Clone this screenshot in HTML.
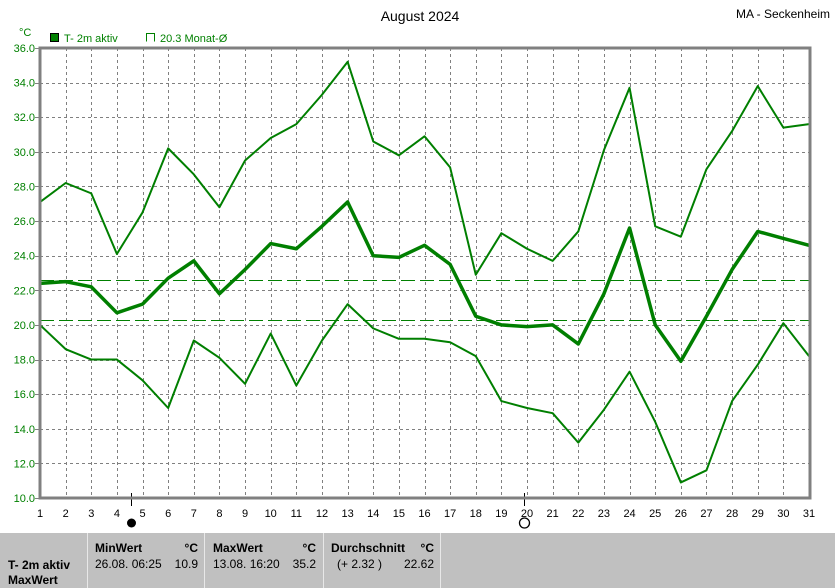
<!DOCTYPE html>
<html><head><meta charset="utf-8"><style>
body{margin:0;width:835px;height:588px;background:#fff;overflow:hidden;font-family:"Liberation Sans",sans-serif}
svg{position:absolute;left:0;top:0}
</style></head><body>
<svg width="835" height="588" xmlns="http://www.w3.org/2000/svg" id="s" font-family="Liberation Sans, sans-serif">
<text x="420" y="21" font-size="14" text-anchor="middle">August 2024</text>
<text x="830" y="18" font-size="12" text-anchor="end">MA - Seckenheim</text>
<text x="19" y="36" font-size="11" fill="#008000">°C</text>
<rect x="50.5" y="33.5" width="8" height="8" fill="#008000" stroke="#000"/>
<text x="64" y="42" font-size="11" fill="#008000">T- 2m aktiv</text>
<path d="M146.5 41.5V33.5H154.5V41.5" fill="none" stroke="#008000"/>
<text x="160" y="42" font-size="11" fill="#008000">20.3 Monat-Ø</text>
<rect x="0" y="533" width="835" height="55" fill="#c0c0c0"/>
<g stroke="#e8e8e8" stroke-width="1"><line x1="87.5" y1="533" x2="87.5" y2="588"/><line x1="204.5" y1="533" x2="204.5" y2="588"/><line x1="323.5" y1="533" x2="323.5" y2="588"/><line x1="440.5" y1="533" x2="440.5" y2="588"/></g>
<g font-size="12" font-weight="bold">
<text x="8" y="569">T- 2m aktiv</text><text x="8" y="584">MaxWert</text>
<text x="95" y="552">MinWert</text><text x="198" y="552" text-anchor="end">°C</text>
<text x="213" y="552">MaxWert</text><text x="316" y="552" text-anchor="end">°C</text>
<text x="331" y="552">Durchschnitt</text><text x="434" y="552" text-anchor="end">°C</text>
</g>
<g font-size="12">
<text x="95" y="568">26.08.  06:25</text><text x="198" y="568" text-anchor="end">10.9</text>
<text x="213" y="568">13.08.  16:20</text><text x="316" y="568" text-anchor="end">35.2</text>
<text x="337" y="568">(+ 2.32 )</text><text x="434" y="568" text-anchor="end">22.62</text>
</g>
<line x1="131.5" y1="493" x2="131.5" y2="506" stroke="#000"/><circle cx="131.5" cy="523" r="4.5" fill="#000"/>
<line x1="524.5" y1="493" x2="524.5" y2="506" stroke="#000"/><circle cx="524.5" cy="523" r="5" fill="none" stroke="#000" stroke-width="1.3"/>
</svg>
<script>
var s=document.getElementById('s'),NS='http://www.w3.org/2000/svg';
function X(d){return 40+(d-1)*769/30}function Y(v){return 48+(36-v)*450/26}
function R(p){return Math.round(p)+0.5}
function el(t,a,txt){var e=document.createElementNS(NS,t);for(var k in a)e.setAttribute(k,a[k]);if(txt)e.textContent=txt;s.appendChild(e);return e}
for(var d=2;d<=30;d++)el('line',{x1:R(X(d)),y1:48,x2:R(X(d)),y2:498,stroke:'#808080','stroke-dasharray':'3,3'});
for(var v=12;v<=34;v+=2)el('line',{x1:40,y1:R(Y(v)),x2:810,y2:R(Y(v)),stroke:'#808080','stroke-dasharray':'3,3'});
for(var v=10;v<=36;v+=2){el('text',{x:35,y:Y(v)+4,'font-size':11,fill:'#008000','text-anchor':'end'},v.toFixed(1));el('line',{x1:35,y1:R(Y(v)),x2:40,y2:R(Y(v)),stroke:'#808080'})}
for(var d=1;d<=31;d++)el('text',{x:X(d),y:517,'font-size':11,'text-anchor':'middle'},''+d);
[22.62,20.3].forEach(function(v){el('line',{x1:40,y1:R(Y(v)),x2:810,y2:R(Y(v)),stroke:'#008000','stroke-dasharray':'14,5'})});
var mx=[27.1,28.2,27.6,24.1,26.5,30.2,28.7,26.8,29.5,30.8,31.6,33.3,35.2,30.6,29.8,30.9,29.1,22.9,25.3,24.4,23.7,25.4,30.1,33.7,25.7,25.1,29.0,31.2,33.8,31.4,31.6];
var mn=[22.4,22.5,22.2,20.7,21.2,22.7,23.7,21.8,23.2,24.7,24.4,25.7,27.1,24.0,23.9,24.6,23.5,20.5,20.0,19.9,20.0,18.9,21.8,25.6,20.0,17.9,20.5,23.2,25.4,25.0,24.6];
var mi=[20.0,18.6,18.0,18.0,16.8,15.2,19.1,18.1,16.6,19.5,16.5,19.1,21.2,19.8,19.2,19.2,19.0,18.2,15.6,15.2,14.9,13.2,15.1,17.3,14.4,10.9,11.6,15.6,17.7,20.1,18.2];
function pl(a,w){el('polyline',{points:a.map(function(v,i){return X(i+1)+','+Y(v)}).join(' '),fill:'none',stroke:'#007f00','stroke-width':w,'stroke-linejoin':'round'})}
pl(mx,2);pl(mi,2);pl(mn,3.5);
el('path',{d:'M40 48H810V498H40Z',fill:'none',stroke:'#808080','stroke-width':3});
</script>
</body></html>
